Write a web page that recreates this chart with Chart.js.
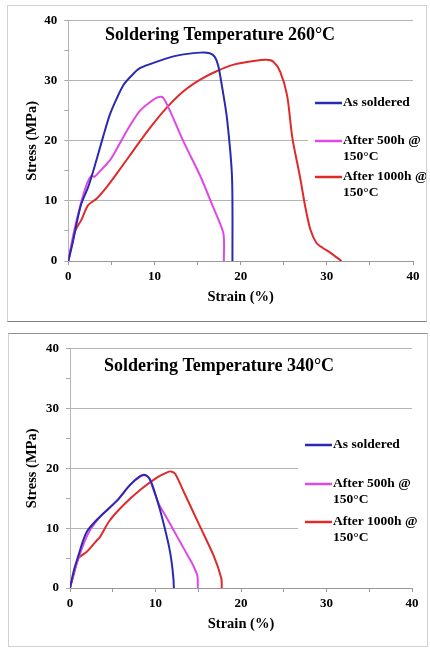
<!DOCTYPE html>
<html>
<head>
<meta charset="utf-8">
<script src="https://cdn.jsdelivr.net/npm/chart.js@4/dist/chart.umd.min.js"></script>
<style>
  body { margin: 0; background: #fff; }
  .panel { position: absolute; border: 1px solid #d0d0d0; background: #fff; }
  #p1 { left: 7px; top: 5px; width: 418px; height: 315px; border-bottom-color: #808080; }
  #p2 { left: 8px; top: 333px; width: 418px; height: 312px; border-top-color: #909090; }
  canvas { display: block; }
</style>
</head>
<body>
<div class="panel" id="p1"><canvas id="chart260" width="418" height="315"></canvas></div>
<div class="panel" id="p2"><canvas id="chart340" width="418" height="312"></canvas></div>
<script>
// tick labels
var xTicks = [0, 10, 20, 30, 40];
var yTicks = [0, 10, 20, 30, 40];

// legend names
var seriesNames = ['As soldered', ['After 500h @', '150°C'], ['After 1000h @', '150°C']];
var chartTitles = ['Soldering Temperature 260°C', 'Soldering Temperature 340°C'];

// 260°C - as soldered
var strainAs260 = [0, 0.5, 1, 1.5, 2.3, 3, 4, 4.8, 5.6, 6.4, 7.3, 8.3, 10.3, 12.6, 15.3, 16.4, 17, 17.4, 17.8, 18.4, 19, 19.05];
var stressAs260 = [0, 3, 6.5, 9.5, 12.3, 15.5, 20.5, 24.3, 27, 29.3, 30.8, 32.1, 33.2, 34.2, 34.7, 34.6, 34, 32.5, 29.4, 23.9, 13.9, 0];
// 260°C - after 500h
var strain500h260 = [0, 0.6, 1.35, 2.2, 2.7, 3.0, 3.7, 4.8, 5.6, 6.8, 8.3, 9.9, 10.5, 11.0, 11.8, 13.4, 15.3, 16.8, 18.0, 18.05];
var stress500h260 = [0, 4.5, 9.0, 13.0, 14.2, 14.0, 15.0, 16.7, 18.6, 21.7, 25.0, 26.9, 27.3, 27.2, 25.0, 19.8, 14.2, 9.0, 4.6, 0];
// 260°C - after 1000h
var strain1000h260 = [0, 0.8, 1.5, 2.3, 3.3, 4.5, 5.6, 7.5, 9.5, 11.4, 13.4, 15.3, 17.2, 19.2, 21.5, 23.0, 23.8, 24.6, 25.4, 26.0, 26.9, 27.5, 28.1, 28.8, 29.5, 30.4, 31.7];
var stress1000h260 = [0, 5.0, 6.8, 9.3, 10.4, 12.4, 14.5, 18.3, 22.2, 25.5, 28.3, 30.2, 31.6, 32.7, 33.3, 33.5, 33.2, 31.5, 27.5, 20.5, 13.9, 9.0, 5.2, 3.0, 2.2, 1.4, 0];

// 340°C - as soldered
var strainAs340 = [0, 0.5, 1.0, 1.5, 2.0, 3.0, 4.0, 5.5, 7.0, 8.2, 8.8, 9.3, 9.8, 10.5, 11.1, 11.6, 11.9, 12.1, 12.15];
var stressAs340 = [0, 3.2, 5.5, 7.8, 9.5, 11.2, 12.6, 14.6, 17.2, 18.7, 18.9, 18.3, 16.5, 13.2, 9.9, 6.8, 4.2, 1.5, 0];
// 340°C - after 500h
var strain500h340 = [0, 0.5, 1.0, 1.5, 2.2, 3.0, 4.0, 5.5, 7.0, 8.3, 8.9, 9.3, 9.8, 10.4, 11.2, 12.1, 13.0, 13.7, 14.4, 14.9, 14.95];
var stress500h340 = [0, 2.8, 5.0, 7.0, 9.3, 11.0, 12.6, 14.6, 17.2, 18.7, 18.8, 18.2, 16.3, 14.0, 12.0, 9.7, 7.4, 5.6, 3.8, 2.0, 0];
// 340°C - after 1000h
var strain1000h340 = [0, 0.5, 1.0, 2.0, 3.1, 3.5, 4.6, 6.2, 8.3, 10.2, 11.3, 11.8, 12.3, 13.4, 15.2, 16.8, 17.7, 17.75];
var stress1000h340 = [0, 2.6, 5.0, 6.1, 7.9, 8.5, 11.2, 13.8, 16.5, 18.5, 19.3, 19.5, 19.1, 15.8, 10.3, 5.4, 1.6, 0];

var colors = ['#2a2ab0', '#e048e6', '#e02a2a'];
var serif = "'Liberation Serif', 'Times New Roman', serif";

function toPoints(xs, ys) {
  return xs.map(function(x, i) { return { x: x, y: ys[i] }; });
}

// title drawn inside the plot area
var titlePlugin = {
  id: 'panelTitle',
  afterDraw: function(chart, args, opts) {
    var ctx = chart.ctx;
    ctx.save();
    ctx.font = 'bold 18px ' + serif;
    ctx.fillStyle = '#000';
    ctx.textAlign = 'center';
    ctx.textBaseline = 'middle';
    ctx.fillText(opts.text, opts.x, opts.y);
    ctx.restore();
  }
};

// legend box sitting over the right part of the grid
var legendPlugin = {
  id: 'boxLegend',
  beforeDatasetsDraw: function(chart, args, opts) {
    var ctx = chart.ctx;
    ctx.save();
    ctx.fillStyle = '#fff';
    ctx.fillRect(opts.box[0], opts.box[1], opts.box[2], opts.box[3]);
    ctx.restore();
  },
  afterDraw: function(chart, args, opts) {
    var ctx = chart.ctx;
    ctx.save();
    ctx.font = 'bold 13.5px ' + serif;
    ctx.textBaseline = 'middle';
    ctx.fillStyle = '#000';
    chart.data.datasets.forEach(function(ds, i) {
      var y = opts.rows[i];
      ctx.strokeStyle = ds.borderColor;
      ctx.lineWidth = 2.5;
      ctx.beginPath();
      ctx.moveTo(opts.lineX, y);
      ctx.lineTo(opts.lineX + 27, y);
      ctx.stroke();
      var lines = [].concat(ds.label);
      lines.forEach(function(t, k) {
        ctx.fillText(t, opts.lineX + 28, y + k * 15.6);
      });
    });
    ctx.restore();
  }
};

function makeChart(id, sets, title, lay) {
  var datasets = sets.map(function(s, i) {
    return {
      label: seriesNames[i],
      data: toPoints(s[0], s[1]),
      borderColor: colors[i],
      borderWidth: 2,
      showLine: true,
      pointRadius: 0,
      tension: 0.25,
      fill: false
    };
  });

  return new Chart(document.getElementById(id), {
    type: 'scatter',
    data: { datasets: datasets },
    plugins: [titlePlugin, legendPlugin],
    options: {
      responsive: false,
      animation: false,
      layout: { padding: { left: lay.left, right: lay.right, top: lay.top, bottom: lay.bottom } },
      plugins: {
        legend: { display: false },
        tooltip: { enabled: false },
        panelTitle: { text: title, x: lay.titleX, y: lay.titleY },
        boxLegend: { box: lay.box, lineX: lay.lineX, rows: lay.rows }
      },
      scales: {
        x: {
          type: 'linear',
          min: 0,
          max: 40,
          afterFit: function(s) { s.height = lay.xHeight; },
          ticks: {
            stepSize: 5,
            padding: 4,
            color: '#000',
            font: { family: serif, size: 13, weight: 'bold' },
            callback: function(v) { return xTicks.indexOf(v) >= 0 ? v : ''; }
          },
          grid: { drawOnChartArea: false, tickLength: 4, tickColor: '#999' },
          border: { color: '#999', width: 1 },
          title: {
            display: true,
            text: 'Strain (%)',
            color: '#000',
            padding: 0,
            font: { family: serif, size: 14.5, weight: 'bold' }
          }
        },
        y: {
          type: 'linear',
          min: 0,
          max: 40,
          afterFit: function(s) { s.width = lay.yWidth; },
          ticks: {
            stepSize: 5,
            padding: 7,
            color: '#000',
            font: { family: serif, size: 13, weight: 'bold' },
            callback: function(v) { return yTicks.indexOf(v) >= 0 ? v : ''; }
          },
          grid: {
            color: function(c) { return (c.tick && c.tick.value % 10 === 0 && c.tick.value > 0) ? '#b4b4b4' : 'rgba(0,0,0,0)'; },
            tickLength: 4,
            tickColor: '#aaa'
          },
          border: { color: '#b4b4b4', width: 1 },
          title: {
            display: true,
            text: 'Stress (MPa)',
            color: '#000',
            padding: 0,
            font: { family: serif, size: 14.5, weight: 'bold' }
          }
        }
      }
    }
  });
}

makeChart('chart260', [
  [strainAs260, stressAs260],
  [strain500h260, stress500h260],
  [strain1000h260, stress1000h260]
], chartTitles[0], {
  left: 16, right: 13, top: 13, bottom: 15, yWidth: 44.3, xHeight: 45,
  titleX: 212, titleY: 29,
  box: [300, 82, 118, 118], lineX: 307, rows: [97, 135, 171]
});

makeChart('chart340', [
  [strainAs340, stressAs340],
  [strain500h340, stress500h340],
  [strain1000h340, stress1000h340]
], chartTitles[1], {
  left: 15, right: 15, top: 14, bottom: 13, yWidth: 46, xHeight: 45,
  titleX: 210, titleY: 32,
  box: [289, 90, 129, 126], lineX: 296, rows: [111, 150, 188]
});
</script>
</body>
</html>
